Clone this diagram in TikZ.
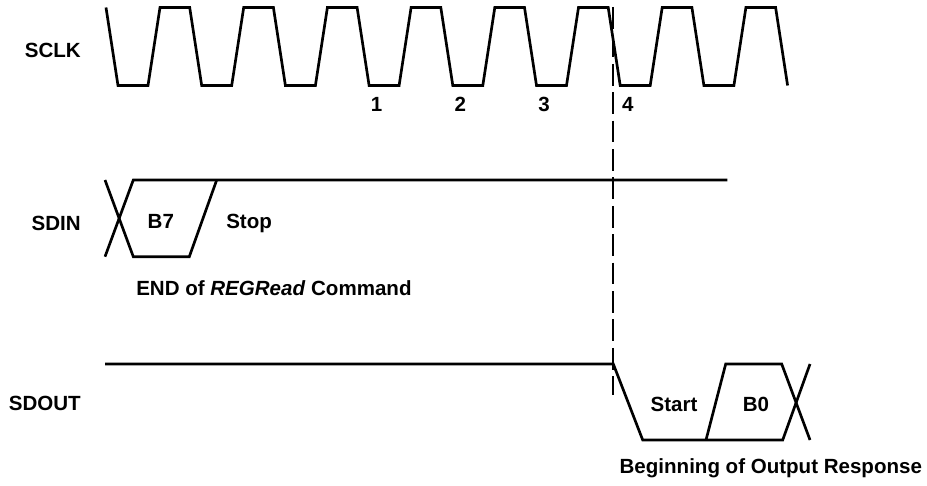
\documentclass[tikz,border=0pt]{standalone}
\usepackage{fontspec}
\setmainfont{Liberation Sans}
\begin{document}
\begin{tikzpicture}[x=0.75pt,y=0.75pt,yscale=-1,
  wave/.style={line width=2pt,line join=miter},
  marker/.style={line width=1.75pt,dash pattern=on 16.3pt off 5pt},
  lbl/.style={font=\fontsize{15.4}{18}\selectfont\bfseries,inner sep=0.75pt,anchor=base}]
\useasboundingbox (0,0) rectangle (927,485);

%Signal names
\node [lbl,anchor=base east] (sclk) at (82,57.3) {SCLK};
\node [lbl,anchor=base east] (sdin) at (82,230.7) {SDIN};
\node [lbl,anchor=base east] (sdout) at (82,410.7) {SDOUT};

%Clock: SCLK
\draw [wave] (106,7.5) foreach \k in {0,...,7} { -- ++(12,78) -- ++(30,0) -- ++(12,-78) -- ++(29.7,0) } -- ++(12,78) ;
% Text Node
\foreach \n [count=\k from 3] in {1,...,4}
  \node [lbl] (clk\n) at (125.5+83.7*\k,111.7) {\n};

%Straight Lines: SDIN
\draw [wave] (105,256.7) -- (133.3,180) -- (727.3,180) ;
\draw [wave] (105,180) -- (133.3,256.7) -- (189.3,256.7) -- (216.7,180) ;
% Text Node
\node [lbl] (b7) at (160.8,228.5) {B7};
\node [lbl,anchor=base west] (stop) at (225,228.5) {Stop};
\node [lbl,anchor=base west] (endcmd) at (135,295) {END of \textit{REGRead} Command};

%Straight Lines: SDOUT
\draw [wave] (105,364) -- (613.3,364) -- (642.7,440) -- (782.7,440) -- (810,364) ;
\draw [wave] (706,440) -- (725.7,364) -- (781.7,364) -- (810,440) ;
% Text Node
\node [lbl] (start) at (674,411) {Start};
\node [lbl] (b0) at (756,411) {B0};
\node [lbl] (begin) at (770.8,473.3) {Beginning of Output Response};

%Dashed marker
\coordinate (marktop) at (613.3,7);
\coordinate (markbot) at (613.3,395);
\draw [marker] (marktop) -- (markbot) ;

\end{tikzpicture}
\end{document}
